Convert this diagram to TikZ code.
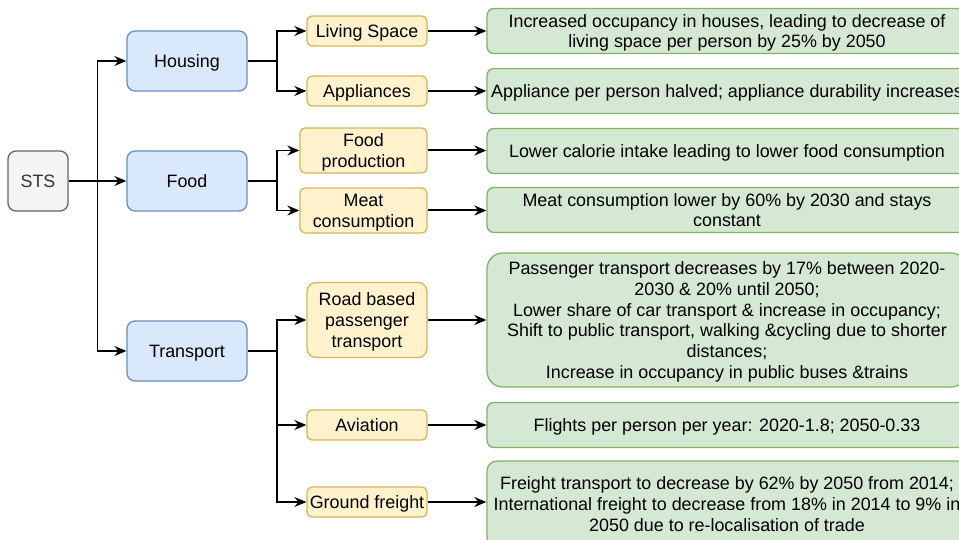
\documentclass[tikz,border=0pt]{standalone}
\usepackage{fontspec}
\setmainfont{Liberation Sans}
\usetikzlibrary{arrows.meta}
\definecolor{bluef}{HTML}{DAE8FC}
\definecolor{blues}{HTML}{6C8EBF}
\definecolor{yelf}{HTML}{FFF2CC}
\definecolor{yels}{HTML}{D6B656}
\definecolor{grnf}{HTML}{D5E8D4}
\definecolor{grns}{HTML}{82B366}
\definecolor{grayf}{HTML}{F5F5F5}
\definecolor{grays}{HTML}{666666}
\definecolor{txtg}{HTML}{333333}
\begin{document}
\begin{tikzpicture}[x=1pt,y=-1pt,
  font=\fontsize{17.9}{20.8}\selectfont,
  base/.style={draw,line width=1.3pt,align=center,inner sep=0pt,anchor=center,text depth=0pt},
  graybox/.style={base,fill=grayf,draw=grays,text=txtg,minimum width=60pt,minimum height=60pt,rounded corners=8pt},
  bluebox/.style={base,fill=bluef,draw=blues,minimum width=120pt,minimum height=60pt,rounded corners=8pt},
  yelbox/.style={base,fill=yelf,draw=yels,rounded corners=5pt},
  grnbox/.style={base,fill=grnf,draw=grns,minimum width=480pt,rounded corners=7pt},
  arr/.style={draw,line width=1.4pt,-{Stealth[length=12pt,width=10pt,inset=4pt]}},
  arrb/.style={draw,line width=2pt,-{Stealth[length=12pt,width=10pt,inset=4pt]}}
]
\useasboundingbox (0,0) rectangle (959,540);
\clip (0,0) rectangle (959,540);
\fill[white] (0,0) rectangle (959,540);

\node[graybox] (sts) at (38,181) {STS};
\node[bluebox] (housing) at (187,61) {Housing};
\node[bluebox] (food) at (187,181) {Food};
\node[bluebox] (transport) at (187,351) {Transport};

\node[yelbox,minimum width=120pt,minimum height=30pt] (living) at (367,31) {Living Space};
\node[yelbox,minimum width=120pt,minimum height=30pt] (appl) at (367,91) {Appliances};
\node[yelbox,minimum width=127pt,minimum height=45pt] (foodprod) at (363.5,150.5) {Food\\production};
\node[yelbox,minimum width=127pt,minimum height=45pt] (meat) at (363.5,210.5) {Meat\\consumption};
\node[yelbox,minimum width=120pt,minimum height=75pt,rounded corners=9pt] (road) at (367,320) {Road based\\passenger\\transport};
\node[yelbox,minimum width=120pt,minimum height=30pt] (aviation) at (367,425) {Aviation};
\node[yelbox,minimum width=120pt,minimum height=30pt] (ground) at (367,502) {Ground freight};

\node[grnbox,minimum height=45pt] (g1) at (727,31) {Increased occupancy in houses, leading to decrease of\\living space per person by 25\% by 2050};
\node[grnbox,minimum height=45pt] (g2) at (727,91) {Appliance per person halved; appliance durability increases};
\node[grnbox,minimum height=45pt] (g3) at (727,151) {Lower calorie intake leading to lower food consumption};
\node[grnbox,minimum height=45pt] (g4) at (727,210) {Meat consumption lower by 60\% by 2030 and stays\\constant};
\node[grnbox,minimum height=134pt,rounded corners=16pt] (g5) at (727,320) {Passenger transport decreases by 17\% between 2020-\\2030 \& 20\% until 2050;\\Lower share of car transport \& increase in occupancy;\\Shift to public transport, walking \&cycling due to shorter\\distances;\\Increase in occupancy in public buses \&trains};
\node[grnbox,minimum height=45pt] (g6) at (727,425) {Flights per person per year: 2020-1.8; 2050-0.33};
\node[grnbox,minimum height=86pt,rounded corners=10pt] (g7) at (727,504) {Freight transport to decrease by 62\% by 2050 from 2014;\\International freight to decrease from 18\% in 2014 to 9\% in\\2050 due to re-localisation of trade};

\coordinate (j1) at (97.3,181);
\coordinate (jh) at (277,61);
\coordinate (jf) at (277,181);
\coordinate (jt) at (277,351);

\draw[arr] (sts.east) -- (j1) |- (housing.west);
\draw[arr] (sts.east) -- (food.west);
\draw[arr] (j1) |- (transport.west);

\draw[arr] (housing.east) -- (jh) |- (living.west);
\draw[arr] (jh) |- (appl.west);
\draw[arr] (food.east) -- (jf) |- (foodprod.west);
\draw[arr] (jf) |- (meat.west);
\draw[arr] (transport.east) -- (jt) |- (road.west);
\draw[arr] (jt) |- (aviation.west);
\draw[arr] (jt) |- (ground.west);

\draw[arrb] (living.east) -- (g1.west |- living.east);
\draw[arrb] (appl.east) -- (g2.west |- appl.east);
\draw[arrb] (foodprod.east) -- (g3.west |- foodprod.east);
\draw[arrb] (meat.east) -- (g4.west |- meat.east);
\draw[arrb] (road.east) -- (g5.west |- road.east);
\draw[arrb] (aviation.east) -- (g6.west |- aviation.east);
\draw[arrb] (ground.east) -- (g7.west |- ground.east);
\end{tikzpicture}
\end{document}
